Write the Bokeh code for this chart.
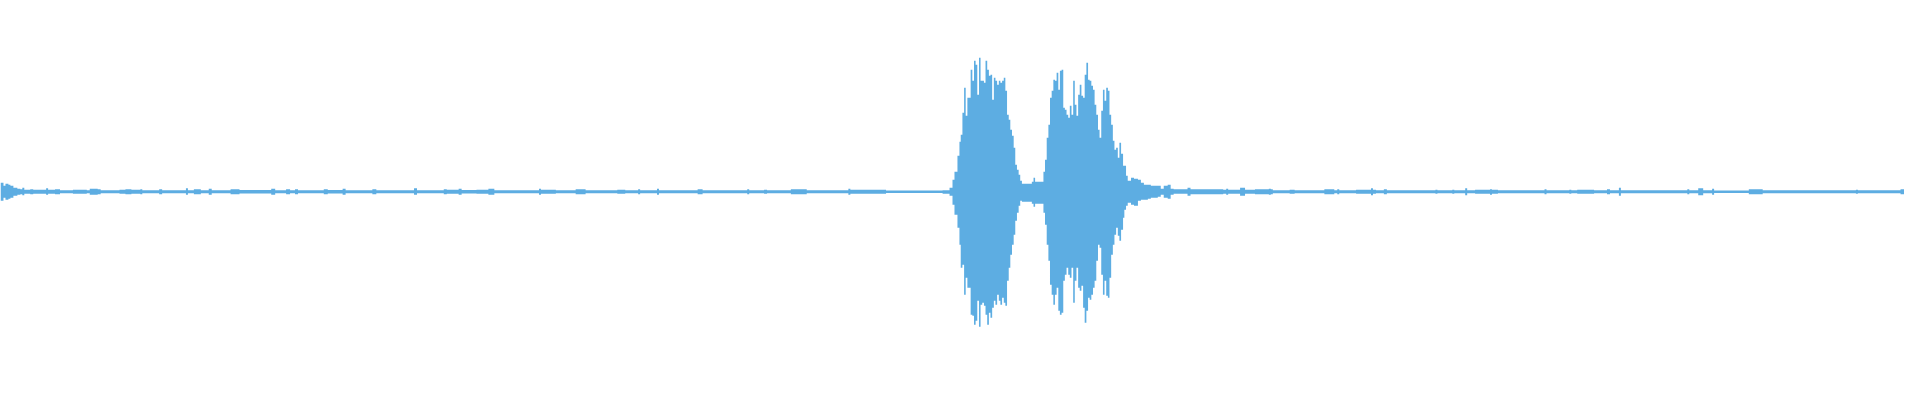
from bokeh.plotting import figure
from bokeh.models import ColumnDataSource, Range1d
from bokeh.embed import file_html
from bokeh.resources import INLINE

# waveform envelope, one entry per segment of the clip (frames 0..1920)
# peak_pos / peak_neg: largest positive / negative sample level inside the segment
frame_start = [
    0, 3, 5, 8, 10, 13, 17, 20, 22, 24, 30, 33, 46, 48, 55, 60, 73, 87, 90, 98,
    101, 120, 126, 132, 141, 143, 160, 163, 187, 189, 195, 202, 210, 213, 232, 241, 273, 277, 288, 292,
    297, 300, 326, 330, 345, 348, 375, 379, 417, 420, 447, 450, 462, 465, 480, 492, 498, 543, 545, 560,
    580, 590, 622, 630, 643, 645, 662, 664, 703, 708, 753, 755, 770, 773, 797, 813, 855, 857, 893,
    # first word
    950, 957, 960, 962, 965, 967, 968.3, 970, 971.7, 973.3, 975, 978.3, 980, 981.7, 983.3, 985, 986.7,
    988.3, 990, 991.7, 993.3, 995, 996.7, 998.3, 1000, 1001.7, 1003.3, 1005, 1006.7, 1008.3, 1010,
    1011.7, 1013.3, 1015, 1016.7, 1018.3, 1020, 1021.7, 1023.3, 1025, 1026.7, 1028.3, 1030,
    # gap and second word
    1040, 1041.7, 1043.3, 1051.7, 1053.3, 1055, 1056.7, 1058.3, 1060, 1061.7, 1063.3, 1065, 1066.7,
    1068.3, 1070, 1071.7, 1073.3, 1075, 1076.7, 1078.3, 1080, 1081.7, 1083.3, 1085, 1086.7, 1088.3,
    1090, 1091.7, 1093.3, 1095, 1096.7, 1098.3, 1100, 1101.7, 1103.3, 1105, 1106.7, 1108.3, 1110,
    1111.7, 1113.3, 1115, 1116.7, 1118.3, 1120, 1121.7, 1123.3, 1125, 1126.7, 1128.3,
    # decay
    1130, 1132, 1133.3, 1135, 1136.7, 1140, 1143, 1147, 1150, 1153, 1157, 1160, 1167, 1170, 1173,
    1177, 1180, 1183, 1197, 1200,
    # tail noise
    1220, 1233, 1236, 1238, 1250, 1255, 1265, 1279, 1281, 1283, 1300, 1305, 1335, 1345, 1348, 1350,
    1367, 1382, 1384, 1387, 1395, 1398, 1447, 1449, 1464, 1466, 1477, 1479, 1487, 1502, 1504, 1510,
    1557, 1559, 1582, 1584, 1590, 1607, 1620, 1623, 1632, 1634, 1701, 1703, 1712, 1717, 1726, 1728,
    1763, 1777, 1871, 1873, 1916,
]
last_frame = 1920

peak_pos = [
    9, 6, 8, 7, 6, 4, 3, 2.5, 4, 2, 2.5, 2, 3.5, 2, 2.5, 1.5, 2, 1.5, 3, 2.5,
    1.5, 2, 2.5, 2, 2.5, 1.5, 2.5, 1.5, 3.5, 1.5, 2.5, 1.5, 3, 1.5, 2.5, 1.8, 3, 1.5, 2.5, 1.5,
    2.5, 1.5, 2.5, 1.8, 3, 1.5, 2.5, 1.5, 3.5, 1.5, 2.5, 2, 3, 1.8, 2, 3, 1.5, 3, 2, 1.5,
    2.5, 1.5, 2, 1.5, 2.5, 1.5, 3, 1.5, 2.5, 1.5, 2.5, 1.5, 2, 1.5, 2.5, 1.5, 3, 2, 1.3,
    1.5, 4, 12, 20, 36, 50, 57, 79, 104, 76, 94, 122, 111, 131, 127, 97, 134,
    111, 111, 109, 131, 122, 116, 117, 92, 114, 111, 107, 111, 109, 111,
    114, 101, 77, 72, 62, 56, 44, 27, 22, 17, 11, 8,
    10, 14, 10, 20, 32, 54, 67, 94, 101, 112, 111, 119, 102,
    121, 122, 84, 82, 77, 74, 86, 77, 111, 87, 76, 97, 107,
    96, 94, 117, 129, 112, 111, 106, 102, 87, 77, 62, 54, 81,
    102, 91, 104, 101, 77, 67, 51, 42, 44, 34, 49,
    38, 26, 26, 16, 11, 14, 13, 12, 9, 7, 7, 6, 6, 3, 6,
    7, 3, 2.5, 4, 2.5,
    2.5, 2, 3, 2, 4, 2, 2.5, 3, 2.5, 1.5, 2, 1.5, 2.5, 1.5, 2.5, 1.5,
    2, 3.5, 2, 1.5, 2.5, 1.5, 2, 1.5, 2, 1.5, 3.5, 1.5, 2, 2.5, 2, 1.5,
    2.5, 1.5, 2, 1.5, 2, 1.5, 2.5, 1.5, 4, 1.5, 2.5, 1.5, 3.5, 1.5, 3, 1.3,
    2.5, 1.5, 2, 1.5, 2.5,
]

peak_neg = [
    9, 6, 8, 7, 6, 4, 3, 2.5, 3.5, 2, 2.5, 2, 3, 2, 2.5, 1.5, 2, 1.5, 3, 2.5,
    1.5, 2, 2.5, 2, 2.5, 1.5, 2.5, 1.5, 3, 1.5, 2.5, 1.5, 3, 1.5, 2.5, 1.8, 3, 1.5, 2.5, 1.5,
    2.5, 1.5, 2.5, 1.8, 3, 1.5, 2.5, 1.5, 3, 1.5, 2.5, 2, 3, 1.8, 2, 3, 1.5, 3, 2, 1.5,
    2.5, 1.5, 2, 1.5, 2.5, 1.5, 3, 1.5, 2.5, 1.5, 2.5, 1.5, 2, 1.5, 2.5, 1.5, 3, 2, 1.3,
    2, 4, 13, 23, 36, 53, 76, 73, 103, 86, 96, 123, 124, 133, 129, 109, 135,
    113, 111, 114, 123, 133, 121, 126, 116, 109, 113, 103, 109, 113, 106,
    111, 114, 89, 76, 63, 53, 43, 29, 21, 14, 9, 10,
    12, 15, 12, 21, 33, 53, 69, 93, 103, 113, 103, 96, 119,
    123, 121, 89, 83, 76, 83, 86, 76, 111, 89, 76, 96, 99,
    94, 116, 131, 119, 106, 108, 103, 96, 89, 69, 53, 56, 83,
    103, 89, 104, 106, 86, 63, 53, 43, 36, 44, 49,
    38, 26, 18, 14, 11, 13, 14, 9, 8, 8, 7, 6, 5, 3, 6,
    7, 3, 2, 4, 2.5,
    2.5, 2, 3, 2, 4, 2, 2.5, 3, 2.5, 1.5, 2, 1.5, 2.5, 1.5, 2.5, 1.5,
    2, 3.5, 2, 1.5, 2.5, 1.5, 2, 1.5, 2, 1.5, 3.5, 1.5, 2, 3, 2, 1.5,
    2.5, 1.5, 2, 1.5, 2, 1.5, 2.5, 1.5, 4, 1.5, 2.5, 1.5, 3.5, 1.5, 3, 1.3,
    2.5, 1.5, 2, 1.5, 2.5,
]

# stepped outline: each segment holds its peak levels from its start to its end
frame_end = frame_start[1:] + [last_frame]
xs, upper, lower = [], [], []
for s, e, hi, lo in zip(frame_start, frame_end, peak_pos, peak_neg):
    xs += [s, e]
    upper += [hi, hi]
    lower += [-lo, -lo]

source = ColumnDataSource(data=dict(x=xs, upper=upper, lower=lower))

wave_color = "#5dade2"

p = figure(width=1904, height=384, output_backend="svg", toolbar_location=None,
           x_range=Range1d(0, last_frame), y_range=Range1d(-192.7, 191.3),
           min_border=0, background_fill_color="white", border_fill_color="white")
p.axis.visible = False
p.grid.visible = False
p.outline_line_color = None

p.varea(x="x", y1="lower", y2="upper", source=source, fill_color=wave_color)

open("out.html", "w").write(file_html(p, INLINE))
